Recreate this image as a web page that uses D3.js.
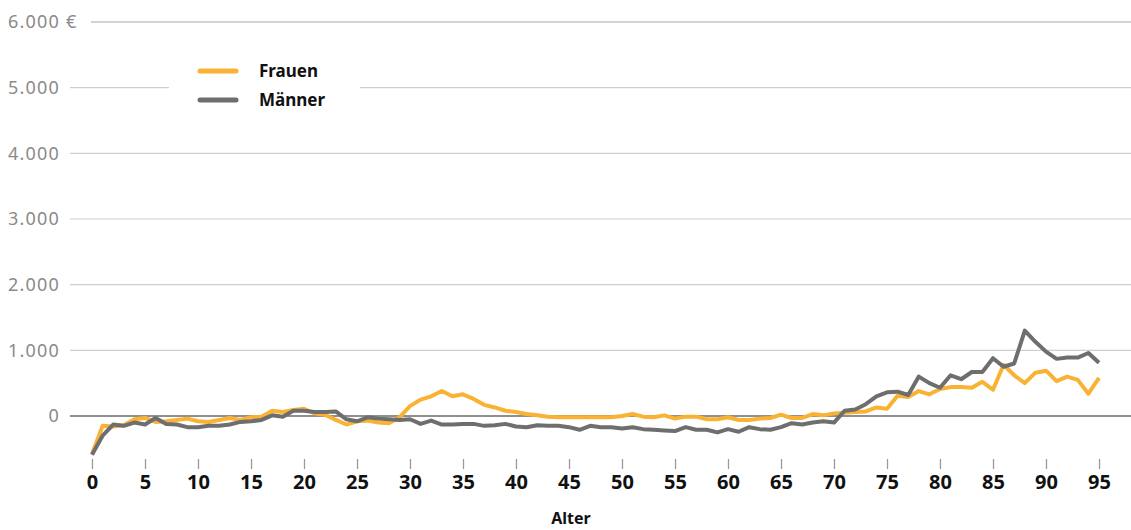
<!DOCTYPE html>
<html><head><meta charset="utf-8">
<script src="https://cdn.jsdelivr.net/npm/d3@7"></script>
<style>
html,body{margin:0;padding:0;background:#fff;}
svg{display:block;font-family:"Noto Sans",sans-serif;}
</style></head>
<body><svg id="c" width="1131" height="530"></svg>
<script>
const ages = d3.range(0, 96);
const frauen = [-580,-150,-160,-140,-50,-30,-90,-80,-60,-40,-80,-90,-60,-30,-60,-20,-10,80,60,90,
110,40,20,-60,-130,-80,-70,-100,-110,-20,150,250,300,380,300,330,260,170,130,80,
60,30,10,-10,-20,-20,-20,-20,-20,-20,0,30,-10,-20,10,-40,-10,-10,-50,-50,
-20,-60,-60,-40,-30,20,-30,-30,30,10,40,50,60,70,130,110,310,290,380,330,
410,440,440,430,520,400,780,620,500,660,690,530,600,550,340,580];
const maenner = [-590,-300,-130,-150,-100,-130,-30,-120,-130,-170,-170,-150,-150,-130,-90,-80,-60,10,-10,80,
80,60,60,70,-50,-80,-20,-40,-50,-60,-50,-120,-70,-130,-130,-120,-120,-150,-140,-120,
-160,-170,-140,-150,-150,-170,-210,-150,-170,-170,-190,-170,-200,-210,-220,-230,-170,-210,-210,-250,
-200,-240,-170,-200,-210,-170,-110,-130,-100,-80,-100,80,100,180,300,360,370,320,600,500,
430,620,560,670,670,880,750,800,1300,1130,980,870,890,890,960,810];
const yTicks = [0,1000,2000,3000,4000,5000,6000];
const yTickLabels = ["0","1.000","2.000","3.000","4.000","5.000","6.000"];
const yUnit = "€";
const xTicks = d3.range(0, 96, 5);
const seriesNames = ["Frauen","Männer"];
const seriesColors = ["#F9B233","#6E6E6E"];

const svg = d3.select("#c");
const x = d3.scaleLinear().domain([0,95]).range([92,1099]);
const y = d3.scaleLinear().domain([0,6000]).range([416,22]);

// gridlines + labels
const g = svg.append("g");
yTicks.forEach((t,i)=>{
  g.append("text").attr("x",60).attr("y",y(t)).attr("dy","0.35em").attr("text-anchor","end")
    .attr("font-size",18).attr("letter-spacing",1.2).attr("fill","#8a8a8a").text(yTickLabels[i]);
  if (i === yTicks.length-1) {
    g.append("text").attr("x",66).attr("y",y(t)).attr("dy","0.35em")
      .attr("font-size",18).attr("fill","#8a8a8a").text(yUnit);
  }
  const x0 = i===yTicks.length-1 ? 91 : 70;
  g.append("line").attr("x1",x0).attr("x2",1131).attr("y1",y(t)).attr("y2",y(t))
    .attr("stroke", t===0 ? "#6a6a6a" : (i===yTicks.length-1 ? "#a8a8a8" : "#cfcfcf"))
    .attr("stroke-width", t===0 ? 1.5 : 1.2);
});

// x axis
const xAxis = d3.axisBottom(x).tickValues(xTicks).tickSize(10).tickPadding(6).tickFormat(d3.format("d"));
const ax = svg.append("g").attr("transform","translate(0,459)").call(xAxis);
ax.select(".domain").remove();
ax.selectAll(".tick line").attr("stroke","#9a9a9a").attr("stroke-width",1.3);
ax.selectAll(".tick text").attr("font-size",20).attr("font-weight","bold").attr("fill","#111")
  .attr("font-family","\"Noto Sans\",sans-serif");
svg.append("text").attr("x",571).attr("y",524).attr("text-anchor","middle")
  .attr("font-size",16).attr("font-weight","bold").attr("fill","#111").text("Alter");

// lines
const line = d3.line().x((d,i)=>x(ages[i])).y(d=>y(d));
[frauen, maenner].forEach((s,i)=>{
  svg.append("path").datum(s).attr("d",line).attr("fill","none")
    .attr("stroke",seriesColors[i]).attr("stroke-width",4).attr("stroke-linejoin","round");
});

// legend
const lg = svg.append("g");
lg.append("rect").attr("x",169).attr("y",55).attr("width",191).attr("height",62).attr("fill","#fff");
seriesNames.forEach((n,i)=>{
  const yy = 71 + i*29;
  lg.append("line").attr("x1",200).attr("x2",236).attr("y1",yy).attr("y2",yy)
    .attr("stroke",seriesColors[i]).attr("stroke-width",5).attr("stroke-linecap","round");
  lg.append("text").attr("x",259).attr("y",yy).attr("dy","0.35em").attr("font-size",17)
    .attr("font-weight","bold").attr("fill","#111").text(n);
});
</script></body></html>
